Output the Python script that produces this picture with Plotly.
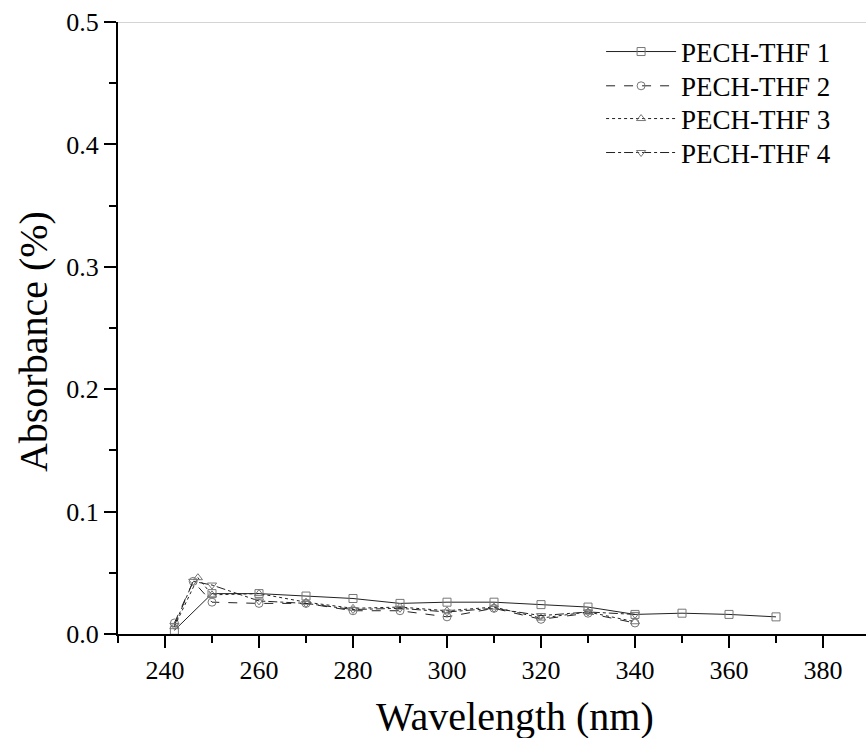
import plotly.graph_objects as go

# Data
x1 = [242, 250, 260, 270, 280, 290, 300, 310, 320, 330, 340, 350, 360, 370]
y1 = [0.003, 0.033, 0.033, 0.031, 0.029, 0.025, 0.026, 0.026, 0.024, 0.022, 0.016, 0.017, 0.016, 0.014]

x2 = [242, 246, 250, 260, 270, 280, 290, 300, 310, 320, 330, 340]
y2 = [0.009, 0.043, 0.026, 0.025, 0.025, 0.019, 0.019, 0.014, 0.021, 0.012, 0.017, 0.009]

x3 = [242, 247, 250, 260, 270, 280, 290, 300, 310, 320, 330, 340]
y3 = [0.006, 0.046, 0.032, 0.033, 0.026, 0.021, 0.022, 0.019, 0.022, 0.013, 0.018, 0.010]

x4 = [242, 246, 250, 260, 270, 280, 290, 300, 310, 320, 330, 340]
y4 = [0.007, 0.043, 0.040, 0.027, 0.025, 0.020, 0.021, 0.018, 0.021, 0.015, 0.018, 0.016]

names = ["PECH-THF 1", "PECH-THF 2", "PECH-THF 3", "PECH-THF 4"]
dashes = ["solid", "dash", "dot", "dashdot"]
symbols = ["square-open", "circle-open", "triangle-up-open", "triangle-down-open"]

x_title = "Wavelength (nm)"
y_title = "Absorbance (%)"

FONT = "Liberation Serif"

legend_ids = ["legend", "legend2", "legend3", "legend4"]
legend_y = [0.951, 0.895, 0.8415, 0.786]

fig = go.Figure()
for xs, ys, nm, ds, sy, lg in zip([x1, x2, x3, x4], [y1, y2, y3, y4], names, dashes, symbols, legend_ids):
    fig.add_trace(go.Scatter(
        x=xs, y=ys, name=nm, mode="lines+markers", legend=lg,
        line=dict(color="#222222", width=1, dash=ds),
        marker=dict(symbol=sy, size=8, color="#777777", line=dict(width=1, color="#777777")),
    ))

fig.add_shape(type="line", xref="paper", yref="y", x0=0, x1=1, y0=0.5, y1=0.5,
              line=dict(color="#aaaaaa", width=1))

fig.add_annotation(text=x_title, xref="paper", yref="paper", x=0.531, y=-0.134,
                   xanchor="center", yanchor="middle", showarrow=False,
                   font=dict(size=40, family=FONT, color="black"))
fig.add_annotation(text=y_title, xref="paper", yref="paper", x=-0.1136, y=0.477,
                   xanchor="center", yanchor="middle", showarrow=False, textangle=-90,
                   font=dict(size=40, family=FONT, color="black"))

legend_layout = {}
for lg, ly in zip(legend_ids, legend_y):
    legend_layout[lg] = dict(x=0.96, y=ly, xanchor="right", yanchor="middle",
                             bgcolor="rgba(0,0,0,0)", font=dict(size=27, family=FONT),
                             itemwidth=70)

fig.update_layout(
    width=866, height=738,
    margin=dict(l=118, r=0, t=22, b=104),
    plot_bgcolor="white", paper_bgcolor="white",
    font=dict(family=FONT, color="black", size=26),
    showlegend=True,
    xaxis=dict(
        range=[230, 389.15], tick0=240, dtick=20,
        ticks="outside", ticklen=12, tickwidth=2, tickcolor="black",
        minor=dict(dtick=10, tick0=230, ticks="outside", ticklen=7, tickwidth=2, tickcolor="black"),
        showline=True, linecolor="black", linewidth=2,
        showgrid=False, zeroline=False,
        tickfont=dict(size=26, family=FONT),
    ),
    yaxis=dict(
        range=[0, 0.5], tick0=0, dtick=0.1, tickformat=".1f",
        ticks="outside", ticklen=12, tickwidth=2, tickcolor="black",
        minor=dict(dtick=0.05, ticks="outside", ticklen=7, tickwidth=2, tickcolor="black"),
        showline=True, linecolor="black", linewidth=2,
        showgrid=False, zeroline=False,
        tickfont=dict(size=26, family=FONT),
    ),
    **legend_layout,
)

fig.write_html("out.html")
